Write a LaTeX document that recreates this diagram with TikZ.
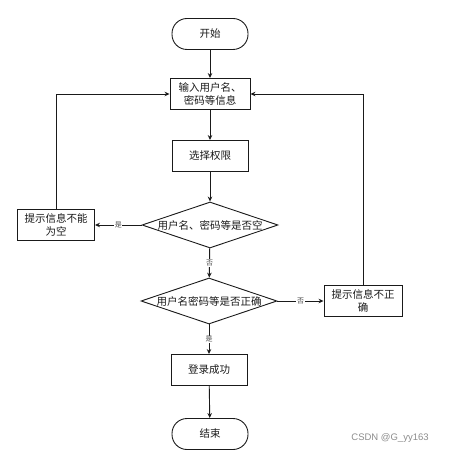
\documentclass[tikz,border=0pt]{standalone}
\usepackage{fontspec}
\newfontfamily\cjk{Noto Sans CJK SC}
\newfontfamily\wmfont{Liberation Sans}
\usetikzlibrary{arrows.meta,positioning,shapes.geometric}
\definecolor{Ink}{HTML}{1A1A1A}
\definecolor{LGray}{HTML}{4A4A4A}
\definecolor{WGray}{HTML}{8C8C8C}

\begin{document}
\begin{tikzpicture}[x=1pt,y=-1pt,font=\cjk\fontsize{10.5}{12.5}\selectfont,
    blk/.style={draw=Ink,line width=0.9pt,minimum width=76pt,minimum height=31pt,
      align=center,inner sep=1pt,text=Ink},
    term/.style={blk,rounded corners=15pt},
    dec/.style={diamond,draw=Ink,line width=0.9pt,aspect=3,inner sep=0pt,
      minimum width=136pt,minimum height=46pt,text=Ink},
    lbl/.style={fill=white,inner sep=0.6pt,text=LGray,font=\cjk\fontsize{7}{8}\selectfont},
    >={Stealth[length=5pt,width=4.5pt]}]
  \useasboundingbox (0,0) rectangle (460,454);
  \node[term] (start) at (210,34) {开始};
  \node[blk,minimum width=80pt] (inp) at (210,94) {输入用户名、\\密码等信息};
  \node[blk] (sel) at (210,156) {选择权限};
  \node[dec] (d1) at (210,225) {用户名、密码等是否空};
  \node[blk,minimum width=77pt] (empty) at (56,225) {提示信息不能\\为空};
  \node[dec] (d2) at (209,301) {用户名密码等是否正确};
  \node[blk,minimum width=78pt] (wrong) at (363,301) {提示信息不正\\确};
  \node[blk] (ok) at (209,370) {登录成功};
  \node[term] (end) at (210,434) {结束};
  \draw[->,Ink,line width=0.9pt] (start) -- (inp);
  \draw[->,Ink,line width=0.9pt] (inp) -- (sel);
  \draw[->,Ink,line width=0.9pt] (sel) -- (d1);
  \draw[->,Ink,line width=0.9pt] (d1) -- node[lbl]{是} (empty);
  \draw[->,Ink,line width=0.9pt] (d1) -- node[lbl]{否} (d2);
  \draw[->,Ink,line width=0.9pt] (d2) -- node[lbl]{否} (wrong);
  \draw[->,Ink,line width=0.9pt] (d2) -- node[lbl]{是} (ok);
  \draw[->,Ink,line width=0.9pt] (ok) -- (end);
  \draw[->,Ink,line width=0.9pt] (empty) |- (inp.west);
  \draw[->,Ink,line width=0.9pt] (wrong) |- (inp.east);
  % watermark
  \node[font=\wmfont\fontsize{9.5}{10}\selectfont,text=WGray] (wm) at (390,438) {CSDN @G\_yy163};
\end{tikzpicture}
\end{document}
